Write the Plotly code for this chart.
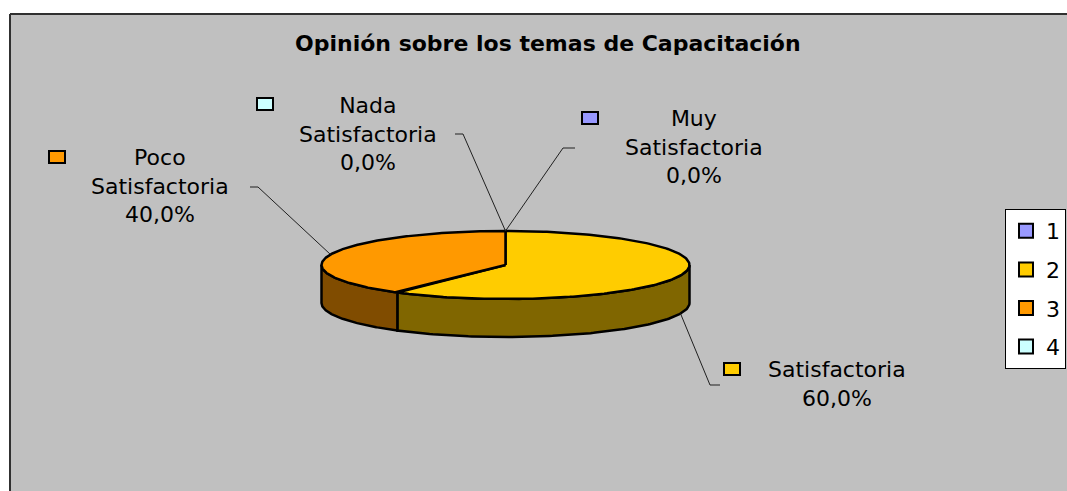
import numpy as np
import plotly.graph_objects as go

# ---- data ----
categories = ["Muy Satisfactoria", "Satisfactoria", "Poco Satisfactoria", "Nada Satisfactoria"]
values = [0, 60, 40, 0]
legend_labels = ["1", "2", "3", "4"]
top_colors = ["#9999FF", "#FFCC00", "#FF9900", "#CCFFFF"]
side_colors = ["#4C4C80", "#806600", "#804C00", "#668080"]
title_text = "Opinión sobre los temas de Capacitación"

# ---- geometry (pixel space) ----
W, H = 1067, 491
CX, CY, RX, RY, DEPTH = 505.5, 265, 184, 34, 38
FONT = "DejaVu Sans"


def pt(theta_deg, dy=0.0):
    t = np.radians(theta_deg)
    return CX + RX * np.sin(t), CY - RY * np.cos(t) + dy


fig = go.Figure()

# slice angles (clockwise from 12 o'clock)
total = float(sum(values))
starts, ends = [], []
acc = 0.0
for v in values:
    a0 = acc / total * 360.0
    acc += v
    a1 = acc / total * 360.0
    starts.append(a0)
    ends.append(a1)

# side walls (visible front half: 90..270)
for i, v in enumerate(values):
    if v <= 0:
        continue
    a0, a1 = max(starts[i], 90.0), min(ends[i], 270.0)
    if a1 <= a0:
        continue
    th = np.linspace(a0, a1, 120)
    xs_top, ys_top = pt(th)
    xs_bot, ys_bot = pt(th[::-1], DEPTH)
    xs = np.concatenate([xs_top, xs_bot, xs_top[:1]])
    ys = np.concatenate([ys_top, ys_bot, ys_top[:1]])
    fig.add_trace(go.Scatter(x=xs, y=ys, mode="lines", fill="toself",
                             fillcolor=side_colors[i],
                             line=dict(color="black", width=2.5),
                             hoverinfo="skip", showlegend=False))

# top faces
for i, v in enumerate(values):
    if v <= 0:
        continue
    th = np.linspace(starts[i], ends[i], 200)
    xa, ya = pt(th)
    xs = np.concatenate([[CX], xa, [CX]])
    ys = np.concatenate([[CY], ya, [CY]])
    fig.add_trace(go.Scatter(x=xs, y=ys, mode="lines", fill="toself",
                             fillcolor=top_colors[i],
                             line=dict(color="black", width=2.5),
                             hoverinfo="skip", showlegend=False))

# data labels: positions (layout), anchor of leader line, key square
label_pos = [(694, 147), (837, 384), (160, 186), (368, 134)]
leader_start = [(575, 148, 563), (720, 385, 710), (250, 187, 258), (455, 134, 463)]
key_pos = [(590, 118), (732, 369), (57, 157), (265, 104)]

shapes = [
    dict(type="rect", xref="x", yref="y", x0=10, y0=14, x1=W + 20, y1=H + 20,
         fillcolor="#C0C0C0", line=dict(width=0), layer="below"),
    dict(type="line", xref="x", yref="y", x0=10, y0=14, x1=W + 20, y1=14,
         line=dict(color="#303030", width=2), layer="below"),
    dict(type="line", xref="x", yref="y", x0=10, y0=14, x1=10, y1=H + 20,
         line=dict(color="#303030", width=2), layer="below"),
]
annotations = [dict(x=548, y=43, xref="x", yref="y", text="<b>" + title_text + "</b>",
                    showarrow=False, font=dict(family=FONT, size=22, color="black"))]

for i, cat in enumerate(categories):
    pct = f"{values[i] / total * 100:.1f}".replace(".", ",") + "%"
    words = cat.split(" ", 1)
    txt = "<br>".join(words + [pct])
    lx, ly = label_pos[i]
    annotations.append(dict(x=lx, y=ly, xref="x", yref="y", text=txt, showarrow=False,
                            align="center", font=dict(family=FONT, size=22, color="black")))
    kx, ky = key_pos[i]
    shapes.append(dict(type="rect", xref="x", yref="y", x0=kx - 8, x1=kx + 8, y0=ky - 6, y1=ky + 6,
                       fillcolor=top_colors[i], line=dict(color="black", width=2)))
    # leader line to pie edge at mid angle
    mid = (starts[i] + ends[i]) / 2.0
    dy = DEPTH if np.cos(np.radians(mid)) < 0 else 0.0
    px, py = pt(mid, dy)
    sx, sy, sx2 = leader_start[i]
    fig.add_trace(go.Scatter(x=[sx, sx2, px], y=[sy, sy, py], mode="lines",
                             line=dict(color="#202020", width=1),
                             hoverinfo="skip", showlegend=False))

# legend entries
for i, lab in enumerate(legend_labels):
    fig.add_trace(go.Scatter(x=[None], y=[None], mode="markers", name=lab,
                             legendgroup=lab,
                             marker=dict(symbol="square", size=14, color=top_colors[i],
                                         line=dict(color="black", width=2))))

fig.update_layout(
    width=W, height=H,
    margin=dict(l=0, r=0, t=0, b=0, autoexpand=False),
    paper_bgcolor="white", plot_bgcolor="white",
    xaxis=dict(range=[0, W], visible=False, fixedrange=True),
    yaxis=dict(range=[H, 0], visible=False, fixedrange=True),
    shapes=shapes, annotations=annotations,
    showlegend=True,
    legend=dict(x=1005 / W, y=1 - 209 / H, xanchor="left", yanchor="top",
                bgcolor="white", bordercolor="black", borderwidth=1,
                font=dict(family=FONT, size=22, color="black"),
                tracegroupgap=7, itemclick=False),
)

fig.write_html("out.html", config={"displayModeBar": False},
               post_script="document.body.style.margin='0';document.body.style.overflow='hidden';")
